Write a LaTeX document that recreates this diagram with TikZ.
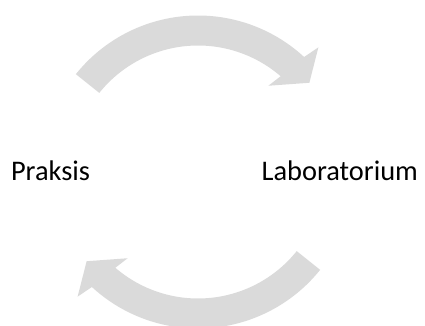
\documentclass[tikz,border=0pt]{standalone}
\usepackage{fontspec}
\setmainfont{Carlito}
\definecolor{arrowgray}{RGB}{218,218,218}
\begin{document}
\begin{tikzpicture}[x=1pt,y=1pt,
  cyclearrow/.style={fill=arrowgray,draw=none},
  label/.style={inner sep=0pt,anchor=base west,font=\fontsize{28.4}{34}\selectfont}]
\clip (0,0) rectangle (425,326);
\coordinate (C) at (198,154);
% upper arrow: from the left end over the top, head pointing down-right
\fill[cyclearrow,shift={(C)}]
  (141.3:156.5) arc[start angle=141.3,end angle=47.3,radius=156.5]
  -- (46.0:173.3) -- (38.7:142.7) -- (50.8:111.3) -- (49.2:126.5)
  arc[start angle=49.2,end angle=141.3,radius=126.5] -- cycle;
% lower arrow: the same shape turned half a turn about the centre
\fill[cyclearrow,shift={(C)}]
  (321.3:156.5) arc[start angle=321.3,end angle=227.3,radius=156.5]
  -- (226.0:173.3) -- (218.7:142.7) -- (230.8:111.3) -- (229.2:126.5)
  arc[start angle=229.2,end angle=321.3,radius=126.5] -- cycle;
\node[label] (praksis) at (10.8,145.3) {Praksis};
\node[label] (lab) at (261.4,145.3) {Laboratorium};
\end{tikzpicture}
\end{document}
